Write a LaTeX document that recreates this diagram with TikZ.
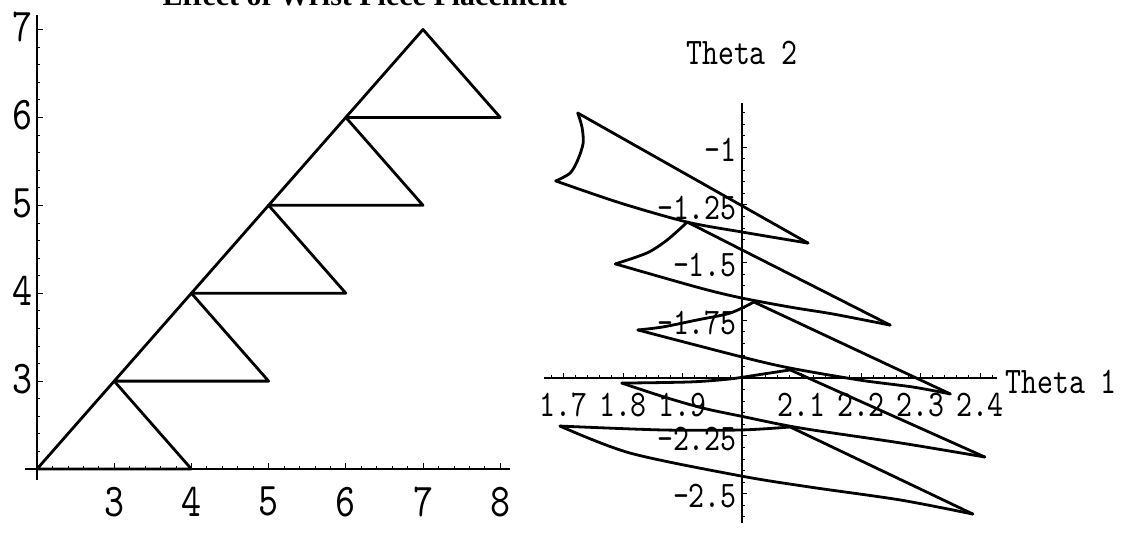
\documentclass[tikz,border=0pt]{standalone}
\usepackage{fontspec}
\setmainfont{Liberation Serif}
\newfontfamily\plotfont[FakeStretch=0.81]{lmmono10-regular.otf}
\usepackage{tikz}
\usetikzlibrary{positioning}

\begin{document}
\begin{tikzpicture}[
    x=1pt, y=-1pt,
    linkline/.style={line width=2.8pt, line cap=round, line join=round},
    axisline/.style={line width=1.2pt},
    minortick/.style={line width=0.7pt},
    majortick/.style={line width=1pt},
    biglbl/.style={font=\plotfont\fontsize{47}{47}\selectfont, inner sep=0pt},
    lbl/.style={font=\plotfont\fontsize{37.5}{37.5}\selectfont, inner sep=0pt}
]
\useasboundingbox (0,0) rectangle (1126,544);
\fill[white] (0,0) rectangle (1126,544);

% title, cut off by the top edge
\begin{scope}
\clip (0,0) rectangle (1126,544);
\node[overlay, anchor=base east, inner sep=0pt, font=\bfseries\fontsize{30}{30}\selectfont] (title) at (567,5) {Effect of Wrist Piece Placement};
\end{scope}

% left plot: link positions
\begin{scope}[shift={(-117.4,644.8)}, x=77.2pt, y=87.9pt]
\draw[axisline] (1.845,2) -- (8.127,2);
\draw[axisline] (2,1.875) -- (2,7.165);
\foreach \i in {1,...,30} \draw[minortick] ({2+0.2*\i},2) -- ++(0,0.035);
\foreach \i in {1,...,25} \draw[minortick] (2,{2+0.2*\i}) -- ++(0.04,0);
\foreach \n in {3,...,8} {
  \draw[majortick] (\n,2) -- ++(0,0.07);
  \node[biglbl, anchor=north, yshift=-18pt] (xlab\n) at (\n,2) {\n};
}
\foreach \n in {3,...,7} {
  \draw[majortick] (2,\n) -- ++(0.08,0);
  \node[biglbl, anchor=east, xshift=-4pt, yshift=2pt] (ylab\n) at (2,\n) {\n};
}
\foreach \k in {2,...,6}
  \draw[linkline] (\k,\k) -- (\k+1,\k+1) -- (\k+2,\k) -- cycle;
\end{scope}

% right plot: joint angles
\begin{scope}[shift={(-448,-84)}, x=595pt, y=231pt]
\draw[axisline] (1.667,-2) -- (2.4286,-2);
\draw[axisline] (2,-0.8095) -- (2,-2.628);
\foreach \i in {-16,...,21} \draw[minortick] ({2+0.02*\i},-2) -- ++(0,0.012);
\foreach \i in {17,...,52} \draw[minortick] (2,{-0.05*\i}) -- ++(0.005,0);
\foreach \v [count=\i] in {1.7,1.8,1.9,2.1,2.2,2.3,2.4} {
  \draw[majortick] (\v,-2) -- ++(0,0.022);
  \node[lbl, anchor=north, yshift=-15pt] (t1lab\i) at (\v,-2) {\v};
}
\foreach \v [count=\i] in {-1,-1.25,-1.5,-1.75,-2.25,-2.5} {
  \draw[majortick] (2,\v) -- ++(0.009,0);
  \node[lbl, anchor=east, xshift=-5pt, yshift=-3pt] (t2lab\i) at (2,\v) {\v};
}
\node[lbl, anchor=west, xshift=8pt, yshift=-4pt] (theta1) at (2.4286,-2) {Theta 1};
\node[lbl, anchor=south, yshift=38pt] (theta2) at (2,-0.8095) {Theta 2};

% region 1
\draw[linkline] (1.724,-0.853) -- (2.111,-1.416);
\draw[linkline] plot[smooth] coordinates {(1.724,-0.853) (1.731,-0.913) (1.733,-0.983) (1.724,-1.056) (1.711,-1.113) (1.687,-1.147)};
\draw[linkline] plot[smooth] coordinates {(1.687,-1.147) (1.795,-1.242) (1.908,-1.325) (2.0,-1.368) (2.111,-1.416)};
% region 2
\draw[linkline] (1.908,-1.325) -- (2.249,-1.771);
\draw[linkline] plot[smooth] coordinates {(1.908,-1.325) (1.874,-1.403) (1.840,-1.459) (1.787,-1.506)};
\draw[linkline] plot[smooth] coordinates {(1.787,-1.506) (1.929,-1.610) (2.0,-1.654) (2.081,-1.693) (2.153,-1.723) (2.249,-1.771)};
% region 3
\draw[linkline] (2.020,-1.671) -- (2.350,-2.069);
\draw[linkline] plot[smooth] coordinates {(2.020,-1.671) (1.980,-1.719) (1.924,-1.749) (1.867,-1.779) (1.825,-1.792)};
\draw[linkline] plot[smooth] coordinates {(1.825,-1.792) (2.0,-1.909) (2.081,-1.957) (2.198,-2.009) (2.287,-2.039) (2.350,-2.069)};
% region 4
\draw[linkline] (2.081,-1.965) -- (2.408,-2.342);
\draw[linkline] plot[smooth] coordinates {(2.081,-1.965) (2.035,-1.983) (1.980,-2.004) (1.913,-2.017) (1.798,-2.022)};
\draw[linkline] plot[smooth] coordinates {(1.798,-2.022) (1.869,-2.082) (1.934,-2.130) (1.998,-2.165) (2.097,-2.216) (2.266,-2.281) (2.408,-2.342)};
% region 5
\draw[linkline] (2.081,-2.212) -- (2.388,-2.589);
\draw[linkline] plot[smooth] coordinates {(2.081,-2.212) (1.998,-2.225) (1.867,-2.225) (1.694,-2.208)};
\draw[linkline] plot[smooth] coordinates {(1.694,-2.208) (1.812,-2.325) (1.998,-2.424) (2.114,-2.472) (2.266,-2.528) (2.388,-2.589)};
\end{scope}
\end{tikzpicture}
\end{document}
